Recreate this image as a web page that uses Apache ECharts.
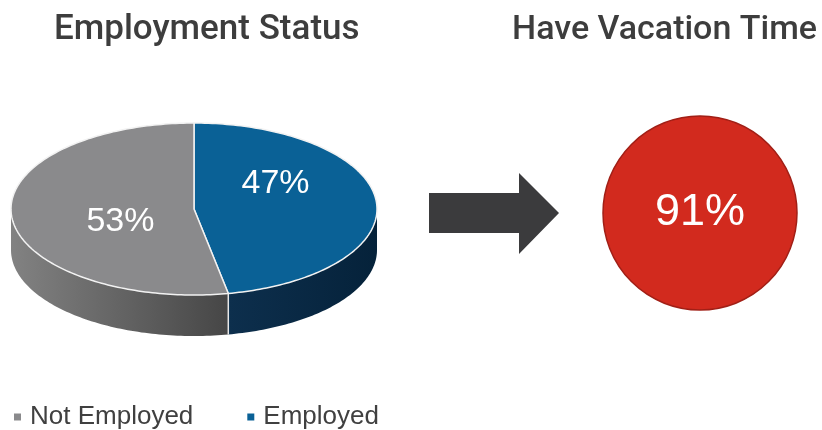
<!DOCTYPE html>
<html>
<head>
<meta charset="utf-8">
<script src="https://cdn.jsdelivr.net/npm/echarts@6/dist/echarts.min.js"></script>
<style>
  html, body { margin: 0; padding: 0; background: #ffffff; }
  #chart { width: 822px; height: 430px; }
</style>
</head>
<body>
<div id="chart"></div>
<script>
// ---- data ----
const categories = ['Not Employed', 'Employed'];
const shares = [53, 47];                 // percent of respondents
const vacationLabel = ['Have Vacation Time'];
const vacationShare = [91];              // percent of employed with vacation time
const titles = ['Employment Status', 'Have Vacation Time'];

// ---- styling / layout (not data) ----
const topColors = { 'Not Employed': '#8a8a8c', 'Employed': '#0a6196' };
const sideColors = {
  'Not Employed': ['#828282', '#464646'],
  'Employed': ['#0d2f4d', '#05223a']
};
const labelShift = { 'Not Employed': [3, 9], 'Employed': [5, -22] };
const PIE = { cx: 194, cy: 209, rx: 183, ry: 86, depth: 41 };

// Employed is drawn first clockwise from 12 o'clock, then Not Employed
const drawOrder = ['Employed', 'Not Employed'];
const startOf = {};
let acc = 0;
drawOrder.forEach(function (name) {
  startOf[name] = acc;
  acc += shares[categories.indexOf(name)];
});
const total = acc;

function arcPts(a0, a1, dy) {
  const pts = [];
  const n = Math.max(2, Math.ceil(Math.abs(a1 - a0) / 0.02));
  for (let i = 0; i <= n; i++) {
    const a = a0 + (a1 - a0) * i / n;
    pts.push([PIE.cx + PIE.rx * Math.cos(a), PIE.cy + PIE.ry * Math.sin(a) + dy]);
  }
  return pts;
}

function makeRender(name) {
  return function (params, api) {
    const start = api.value(0), val = api.value(1);
    const a0 = -Math.PI / 2 + start / total * 2 * Math.PI;
    const a1 = a0 + val / total * 2 * Math.PI;
    const children = [];
    // visible side (front half: angles 0..PI)
    const lo = Math.max(a0, 0), hi = Math.min(a1, Math.PI);
    if (lo < hi) {
      const topArc = arcPts(lo, hi, 0);
      const botArc = arcPts(hi, lo, PIE.depth);
      const xs = topArc.map(p => p[0]);
      const sc = sideColors[name];
      children.push({
        type: 'polygon',
        shape: { points: topArc.concat(botArc) },
        style: {
          fill: new echarts.graphic.LinearGradient(Math.min.apply(null, xs), 0, Math.max.apply(null, xs), 0,
            [{ offset: 0, color: sc[0] }, { offset: 1, color: sc[1] }], true),
          stroke: null
        }
      });
      // white seam at slice start edge on the side
      if (a0 >= 0 && a0 <= Math.PI) {
        const x = PIE.cx + PIE.rx * Math.cos(a0), y = PIE.cy + PIE.ry * Math.sin(a0);
        children.push({
          type: 'line',
          shape: { x1: x, y1: y, x2: x, y2: y + PIE.depth },
          style: { stroke: '#e8e8e8', lineWidth: 1.5 }
        });
      }
    }
    // top face
    const topPts = [[PIE.cx, PIE.cy]].concat(arcPts(a0, a1, 0));
    children.push({
      type: 'polygon',
      shape: { points: topPts },
      style: { fill: topColors[name], stroke: '#f2f2f2', lineWidth: 1.5, lineJoin: 'round' }
    });
    // label
    const mid = (a0 + a1) / 2;
    const f = 0.42;
    children.push({
      type: 'text',
      x: PIE.cx + f * PIE.rx * Math.cos(mid) + labelShift[name][0],
      y: PIE.cy + f * PIE.ry * Math.sin(mid) + labelShift[name][1],
      style: {
        text: Math.round(val / total * 100) + '%',
        fill: '#ffffff',
        font: '34px Arial, "Liberation Sans", sans-serif',
        align: 'center',
        verticalAlign: 'middle'
      }
    });
    return { type: 'group', children: children };
  };
}

const pieSeries = drawOrder.map(function (name) {
  const idx = categories.indexOf(name);
  return {
    type: 'custom',
    name: name,
    coordinateSystem: 'none',
    silent: true,
    itemStyle: { color: topColors[name] },
    data: [[startOf[name], shares[idx]]],
    renderItem: makeRender(name)
  };
});

const chart = echarts.init(document.getElementById('chart'), null, { renderer: 'canvas' });
chart.setOption({
  animation: false,
  backgroundColor: '#ffffff',
  title: [
    {
      text: titles[0], left: 49, top: 8,
      textStyle: { fontFamily: 'Roboto', fontWeight: 500, fontSize: 35, color: '#3d3d3d' }
    },
    {
      text: titles[1], right: 0, top: 8,
      textStyle: { fontFamily: 'Roboto', fontWeight: 500, fontSize: 34, color: '#3d3d3d' }
    }
  ],
  legend: {
    data: categories,
    left: 9,
    top: 399,
    icon: 'rect',
    itemWidth: 7,
    itemHeight: 7,
    itemGap: 54,
    selectedMode: false,
    textStyle: { fontFamily: 'Arial, "Liberation Sans", sans-serif', fontSize: 26, color: '#404040', padding: [0, 0, 0, 4] }
  },
  graphic: [
    {
      type: 'polygon',
      shape: { points: [[429, 193], [519, 193], [519, 173], [559, 213], [519, 254], [519, 233], [429, 233]] },
      style: { fill: '#3b3b3d' },
      silent: true
    }
  ],
  series: pieSeries.concat([
    {
      type: 'pie',
      name: vacationLabel[0],
      center: [700, 213],
      radius: [0, 97],
      silent: true,
      startAngle: 90,
      itemStyle: { color: '#d22a1e', borderColor: '#a11f16', borderWidth: 1.5 },
      label: {
        show: true, position: 'center',
        formatter: function (p) { return p.value + '%'; },
        fontFamily: 'Arial, "Liberation Sans", sans-serif',
        fontSize: 45, color: '#ffffff', padding: [6, 0, 0, 0]
      },
      labelLine: { show: false },
      emphasis: { disabled: true },
      data: vacationShare.map(function (v, i) { return { name: vacationLabel[i], value: v }; })
    }
  ])
});
</script>
</body>
</html>
